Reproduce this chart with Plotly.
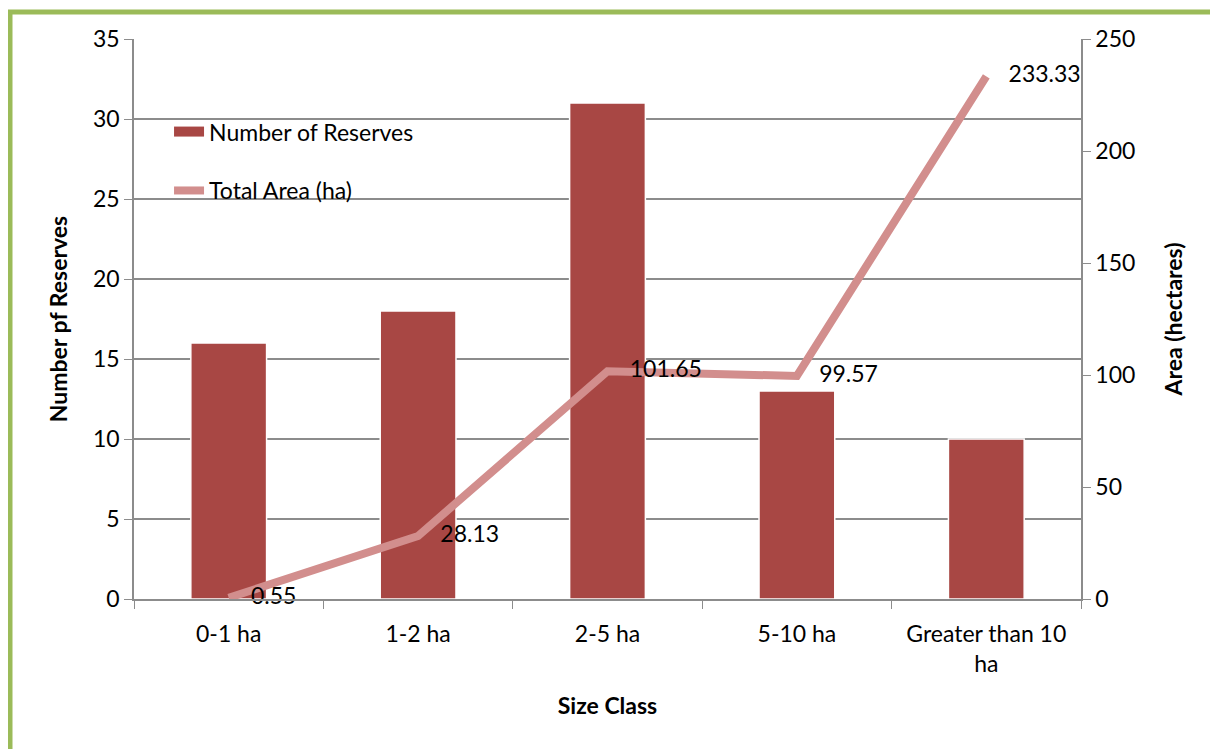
import plotly.graph_objects as go

categories = ["0-1 ha", "1-2 ha", "2-5 ha", "5-10 ha", "Greater than 10<br>ha"]
num_reserves = [16, 18, 31, 13, 10]
total_area = [0.55, 28.13, 101.65, 99.57, 233.33]
area_labels = ["0.55", "28.13", "101.65", "99.57", "233.33"]

FONT = "Lato, 'Open Sans', sans-serif"
GRID = "#8C8C8C"
BAR = "#A84744"
LINE = "#D28E8D"
FS = 23

fig = go.Figure()
fig.add_trace(go.Bar(
    x=categories, y=num_reserves, name="Number of Reserves",
    marker=dict(color=BAR, line=dict(color="#FFFFFF", width=1.5)),
    width=0.4, showlegend=False, yaxis="y",
))
# legend entry drawn as a wide block like the reference
fig.add_trace(go.Scatter(
    x=[None], y=[None], name="Number of Reserves", mode="lines",
    line=dict(color=BAR, width=13), legendgroup="a", yaxis="y",
))
fig.add_trace(go.Scatter(
    x=categories, y=total_area, name="Total Area (ha)", mode="lines+markers+text",
    line=dict(color=LINE, width=8),
    marker=dict(size=34, color="rgba(0,0,0,0)", line=dict(width=0)),
    text=area_labels, textposition="middle right",
    textfont=dict(size=FS, color="#000000", family=FONT),
    legendgroup="b", yaxis="y2", cliponaxis=False, hoverinfo="y",
))

fig.update_layout(
    width=1218, height=749,
    margin=dict(l=126, r=145, t=31, b=158),
    paper_bgcolor="white", plot_bgcolor="white",
    font=dict(family=FONT, size=FS, color="#000000"),
    showlegend=True,
    legend=dict(x=0.037, y=0.873, xanchor="left", yanchor="top",
                bgcolor="rgba(0,0,0,0)", tracegroupgap=26,
                font=dict(size=FS, family=FONT)),
    bargap=0.6,
    xaxis=dict(
        showline=True, linecolor=GRID, linewidth=1.5,
        ticks="outside", tickson="boundaries", ticklen=8, tickcolor=GRID,
        tickfont=dict(size=FS), showgrid=False, ticklabelstandoff=14,
        title=dict(text="<b>Size Class</b>", font=dict(size=FS), standoff=22),
    ),
    yaxis=dict(
        range=[0, 35], dtick=5, showline=True, linecolor=GRID, linewidth=1.5,
        ticks="outside", ticklen=8, tickcolor=GRID,
        showgrid=True, gridcolor=GRID, gridwidth=1.5, zeroline=False,
        tickfont=dict(size=FS),
        title=dict(text="<b>Number pf Reserves</b>", font=dict(size=FS), standoff=19),
    ),
    yaxis2=dict(
        range=[0, 250], dtick=50, overlaying="y", side="right",
        showline=True, linecolor=GRID, linewidth=1.5,
        ticks="outside", ticklen=8, tickcolor=GRID, showgrid=False, zeroline=False,
        tickfont=dict(size=FS),
        title=dict(text="<b>Area (hectares)</b>", font=dict(size=FS), standoff=32),
    ),
)

pw = 1218 - 126 - 145
ph = 749 - 31 - 158
fig.add_shape(type="rect", xref="paper", yref="paper",
              x0=(2 - 126) / pw, x1=(1240 - 126) / pw,
              y0=(749 - 158 - 780) / ph, y1=(749 - 158 - 4) / ph,
              line=dict(color="#9BBB59", width=5), layer="below")

fig.write_html("out.html")
